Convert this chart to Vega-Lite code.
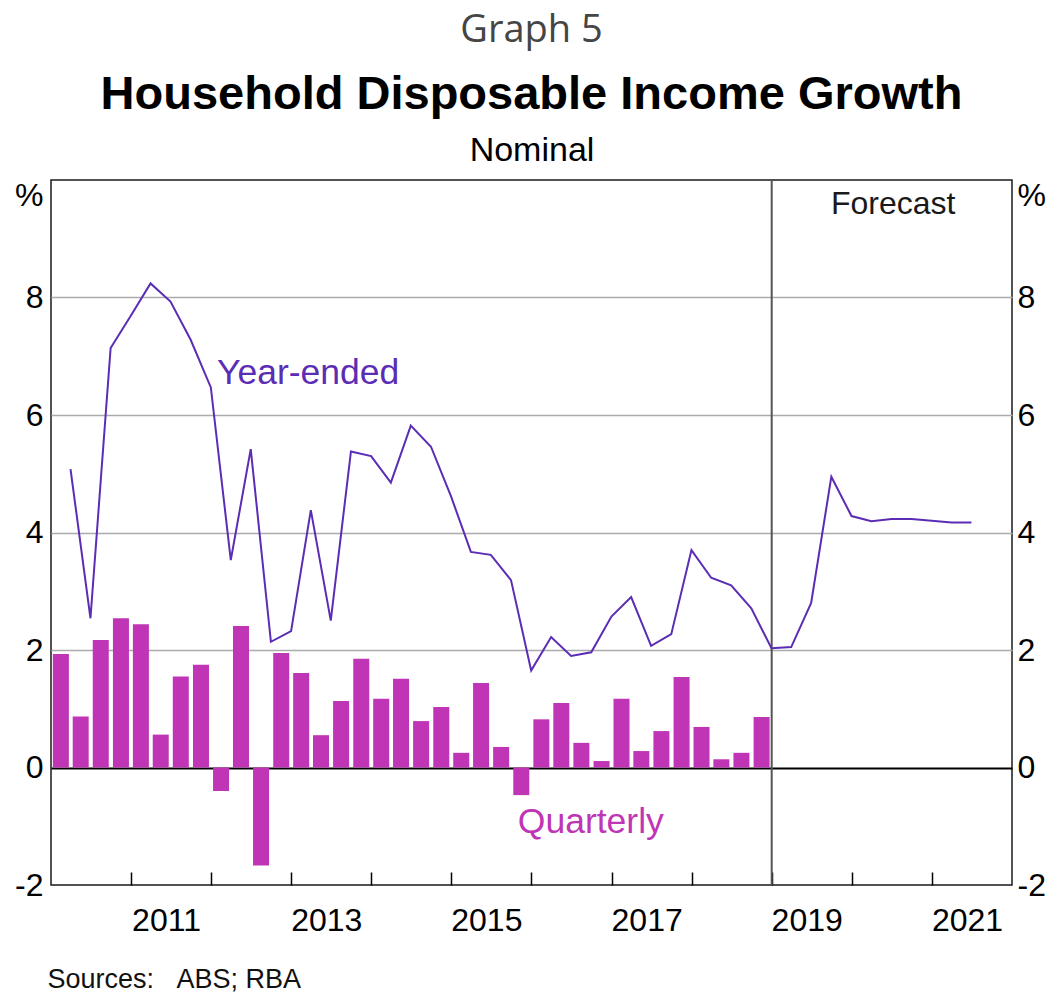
{
  "$schema": "https://vega.github.io/schema/vega-lite/v6.json",
  "width": 961,
  "height": 705,
  "autosize": "none",
  "padding": {"left": 51, "top": 180, "right": 37, "bottom": 107},
  "background": "white",
  "title": {
    "text": "Graph 5",
    "subtitle": "Household Disposable Income Growth",
    "anchor": "middle",
    "frame": "group",
    "font": "Open Sans",
    "fontSize": 38,
    "fontWeight": "normal",
    "color": "#454545",
    "subtitleFont": "Liberation Sans",
    "subtitleFontSize": 47,
    "subtitleFontWeight": "bold",
    "subtitleColor": "#000000",
    "subtitlePadding": 22,
    "offset": 15
  },
  "datasets": {
    "income": [
      {"date": "2010-03-31", "quarterly": 1.93, "yearEnded": 5.08},
      {"date": "2010-06-30", "quarterly": 0.87, "yearEnded": 2.54},
      {"date": "2010-09-30", "quarterly": 2.17, "yearEnded": 7.14},
      {"date": "2010-12-31", "quarterly": 2.54, "yearEnded": 7.69},
      {"date": "2011-03-31", "quarterly": 2.44, "yearEnded": 8.24},
      {"date": "2011-06-30", "quarterly": 0.56, "yearEnded": 7.93},
      {"date": "2011-09-30", "quarterly": 1.55, "yearEnded": 7.28},
      {"date": "2011-12-31", "quarterly": 1.75, "yearEnded": 6.47},
      {"date": "2012-03-31", "quarterly": -0.40, "yearEnded": 3.53},
      {"date": "2012-06-30", "quarterly": 2.41, "yearEnded": 5.42},
      {"date": "2012-09-30", "quarterly": -1.67, "yearEnded": 2.14},
      {"date": "2012-12-31", "quarterly": 1.95, "yearEnded": 2.32},
      {"date": "2013-03-31", "quarterly": 1.61, "yearEnded": 4.38},
      {"date": "2013-06-30", "quarterly": 0.55, "yearEnded": 2.50},
      {"date": "2013-09-30", "quarterly": 1.13, "yearEnded": 5.38},
      {"date": "2013-12-31", "quarterly": 1.85, "yearEnded": 5.30},
      {"date": "2014-03-31", "quarterly": 1.17, "yearEnded": 4.85},
      {"date": "2014-06-30", "quarterly": 1.51, "yearEnded": 5.82},
      {"date": "2014-09-30", "quarterly": 0.79, "yearEnded": 5.46},
      {"date": "2014-12-31", "quarterly": 1.03, "yearEnded": 4.61},
      {"date": "2015-03-31", "quarterly": 0.25, "yearEnded": 3.67},
      {"date": "2015-06-30", "quarterly": 1.44, "yearEnded": 3.62},
      {"date": "2015-09-30", "quarterly": 0.35, "yearEnded": 3.19},
      {"date": "2015-12-31", "quarterly": -0.47, "yearEnded": 1.65},
      {"date": "2016-03-31", "quarterly": 0.82, "yearEnded": 2.22},
      {"date": "2016-06-30", "quarterly": 1.10, "yearEnded": 1.90},
      {"date": "2016-09-30", "quarterly": 0.42, "yearEnded": 1.96},
      {"date": "2016-12-31", "quarterly": 0.11, "yearEnded": 2.57},
      {"date": "2017-03-31", "quarterly": 1.17, "yearEnded": 2.90},
      {"date": "2017-06-30", "quarterly": 0.28, "yearEnded": 2.07},
      {"date": "2017-09-30", "quarterly": 0.62, "yearEnded": 2.27},
      {"date": "2017-12-31", "quarterly": 1.54, "yearEnded": 3.70},
      {"date": "2018-03-31", "quarterly": 0.69, "yearEnded": 3.23},
      {"date": "2018-06-30", "quarterly": 0.14, "yearEnded": 3.10},
      {"date": "2018-09-30", "quarterly": 0.25, "yearEnded": 2.71},
      {"date": "2018-12-31", "quarterly": 0.86, "yearEnded": 2.03},
      {"date": "2019-03-31", "quarterly": null, "yearEnded": 2.05},
      {"date": "2019-06-30", "quarterly": null, "yearEnded": 2.80},
      {"date": "2019-09-30", "quarterly": null, "yearEnded": 4.95},
      {"date": "2019-12-31", "quarterly": null, "yearEnded": 4.28},
      {"date": "2020-03-31", "quarterly": null, "yearEnded": 4.19},
      {"date": "2020-06-30", "quarterly": null, "yearEnded": 4.23},
      {"date": "2020-09-30", "quarterly": null, "yearEnded": 4.23},
      {"date": "2020-12-31", "quarterly": null, "yearEnded": 4.20},
      {"date": "2021-03-31", "quarterly": null, "yearEnded": 4.17},
      {"date": "2021-06-30", "quarterly": null, "yearEnded": 4.17}
    ],
    "forecastStart": [{"date": "2019-01-01"}],
    "labels": [
      {"date": "2012-01-28", "value": 6.72, "label": "Year-ended"},
      {"date": "2016-09-28", "value": -0.92, "label": "Quarterly"},
      {"date": "2020-07-08", "value": 9.6, "label": "Forecast"}
    ]
  },
  "layer": [
    {
      "data": {"name": "income"},
      "mark": {"type": "bar", "color": "#BF35B6", "width": 16},
      "encoding": {
        "x": {
          "field": "date",
          "type": "temporal",
          "timeUnit": "utcyearquarter",
          "bandPosition": 0.5,
          "scale": {
            "type": "utc",
            "domain": [
              {"year": 2010, "month": 1, "date": 1, "utc": true},
              {"year": 2022, "month": 1, "date": 1, "utc": true}
            ]
          },
          "axis": {
            "orient": "bottom",
            "values": [
              {"year": 2011, "month": 1, "date": 1, "utc": true},
              {"year": 2012, "month": 1, "date": 1, "utc": true},
              {"year": 2013, "month": 1, "date": 1, "utc": true},
              {"year": 2014, "month": 1, "date": 1, "utc": true},
              {"year": 2015, "month": 1, "date": 1, "utc": true},
              {"year": 2016, "month": 1, "date": 1, "utc": true},
              {"year": 2017, "month": 1, "date": 1, "utc": true},
              {"year": 2018, "month": 1, "date": 1, "utc": true},
              {"year": 2019, "month": 1, "date": 1, "utc": true},
              {"year": 2020, "month": 1, "date": 1, "utc": true},
              {"year": 2021, "month": 1, "date": 1, "utc": true}
            ],
            "labelExpr": "utcyear(datum.value) % 2 == 1 ? utcFormat(datum.value, '%Y') : ''",
            "labelOffset": 35,
            "labelPadding": 33,
            "labelFontSize": 32,
            "labelColor": "#000000",
            "labelOverlap": false,
            "labelFlush": false,
            "tickSize": -13,
            "tickColor": "#000000",
            "tickWidth": 1.5,
            "domain": false,
            "grid": false,
            "title": "Sources:\u00a0\u00a0\u00a0ABS; RBA",
            "titleFontSize": 27,
            "titleFontWeight": "normal",
            "titleColor": "#111111",
            "titleAnchor": "start",
            "titleAlign": "left",
            "titleBaseline": "alphabetic",
            "titleX": -4,
            "titleY": 102
          }
        },
        "y": {
          "field": "quarterly",
          "type": "quantitative",
          "scale": {"domain": [-2, 10], "nice": false},
          "axis": {
            "orient": "left",
            "values": [-2, 0, 2, 4, 6, 8, 10],
            "labelExpr": "datum.value == 10 ? '%' : toString(datum.value)",
            "labelBaseline": {"condition": {"test": "datum.value == 10", "value": "top"}, "value": "middle"},
            "labelFontSize": 32,
            "labelColor": "#000000",
            "labelPadding": 8,
            "ticks": false,
            "domain": false,
            "grid": true,
            "gridColor": {"condition": {"test": "datum.value == 0", "value": "#000000"}, "value": "#ababab"},
            "gridWidth": {"condition": {"test": "datum.value == 0", "value": 2}, "value": 1.5},
            "gridOpacity": {"condition": {"test": "datum.value == 10 || datum.value == -2", "value": 0}, "value": 1},
            "title": null
          }
        }
      }
    },
    {
      "data": {"name": "forecastStart"},
      "mark": {"type": "rule", "color": "#555555", "strokeWidth": 2},
      "encoding": {
        "x": {"field": "date", "type": "temporal", "scale": {"type": "utc"}, "axis": null}
      }
    },
    {
      "data": {"name": "income"},
      "mark": {"type": "line", "color": "#5B2DB4", "strokeWidth": 2},
      "encoding": {
        "x": {
          "field": "date",
          "type": "temporal",
          "scale": {"type": "utc"},
          "axis": {
            "orient": "top",
            "labels": false,
            "ticks": false,
            "domain": false,
            "grid": false,
            "title": "Nominal",
            "titleFontSize": 34,
            "titleFontWeight": "normal",
            "titleColor": "#000000",
            "titleBaseline": "alphabetic",
            "titleY": -20
          }
        },
        "y": {
          "field": "yearEnded",
          "type": "quantitative",
          "scale": {"domain": [-2, 10], "nice": false},
          "axis": {
            "orient": "right",
            "values": [-2, 0, 2, 4, 6, 8, 10],
            "labelExpr": "datum.value == 10 ? '%' : toString(datum.value)",
            "labelBaseline": {"condition": {"test": "datum.value == 10", "value": "top"}, "value": "middle"},
            "labelFontSize": 32,
            "labelColor": "#000000",
            "labelPadding": 5,
            "ticks": false,
            "domain": false,
            "grid": false,
            "title": null
          }
        }
      }
    },
    {
      "data": {"name": "labels"},
      "transform": [{"filter": "datum.label == 'Year-ended'"}],
      "mark": {"type": "text", "color": "#5B2DB4", "fontSize": 35.5, "align": "left", "baseline": "middle"},
      "encoding": {
        "x": {"field": "date", "type": "temporal", "scale": {"type": "utc"}, "axis": null},
        "y": {"field": "value", "type": "quantitative", "axis": null},
        "text": {"field": "label"}
      }
    },
    {
      "data": {"name": "labels"},
      "transform": [{"filter": "datum.label == 'Quarterly'"}],
      "mark": {"type": "text", "color": "#BF35B6", "fontSize": 35.5, "align": "center", "baseline": "middle"},
      "encoding": {
        "x": {"field": "date", "type": "temporal", "scale": {"type": "utc"}, "axis": null},
        "y": {"field": "value", "type": "quantitative", "axis": null},
        "text": {"field": "label"}
      }
    },
    {
      "data": {"name": "labels"},
      "transform": [{"filter": "datum.label == 'Forecast'"}],
      "mark": {"type": "text", "color": "#1a1a1a", "fontSize": 32, "align": "center", "baseline": "middle"},
      "encoding": {
        "x": {"field": "date", "type": "temporal", "scale": {"type": "utc"}, "axis": null},
        "y": {"field": "value", "type": "quantitative", "axis": null},
        "text": {"field": "label"}
      }
    }
  ],
  "resolve": {"axis": {"x": "independent", "y": "independent"}},
  "config": {
    "font": "Liberation Sans",
    "view": {"stroke": "#1a1a1a", "strokeWidth": 1.5},
    "axis": {"labelFont": "Liberation Sans", "titleFont": "Liberation Sans"},
    "text": {"font": "Liberation Sans"}
  }
}
